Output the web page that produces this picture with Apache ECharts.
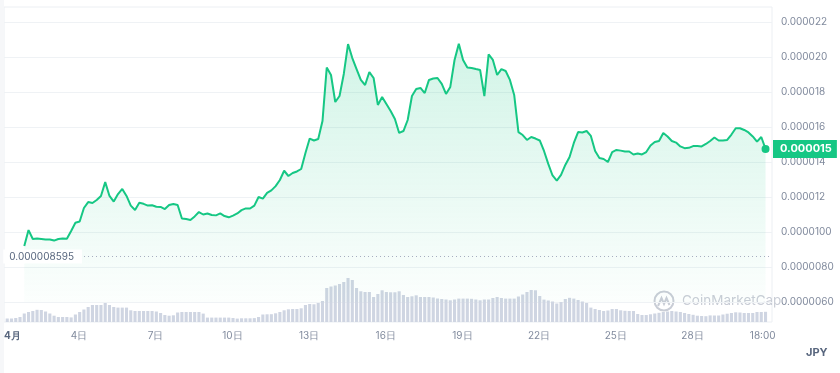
<!DOCTYPE html>
<html><head><meta charset="utf-8">
<script src="https://cdn.jsdelivr.net/npm/echarts@6/dist/echarts.min.js"></script>
<style>html,body{margin:0;padding:0;background:#fff}#c{width:840px;height:373px}</style>
</head><body><div id="c"></div>
<script>
// Price in units of 0.000001 JPY, sampled every 4 hours
const PRICE_START_DAY = 1.86;   // day of month (fractional) of first price sample
const VOLUME_START_DAY = 1.193; // day of month (fractional) of first volume bar
const STEP_DAYS = 1 / 6;        // 4 hours
const X_MIN_DAY = 1.0665;
const X_MAX_DAY = 31.113;

const priceMicroJPY = [
  9.2, 10.11, 9.6, 9.63, 9.6, 9.57, 9.57, 9.51, 9.6, 9.63,
  9.61, 10.06, 10.53, 10.6, 11.37, 11.71, 11.66, 11.83, 12.06, 12.85,
  12.06, 11.74, 12.17, 12.46, 12.06, 11.51, 11.26, 11.67, 11.61, 11.51,
  11.53, 11.44, 11.43, 11.31, 11.54, 11.6, 11.54, 10.77, 10.74, 10.69,
  10.89, 11.14, 11.0, 11.06, 10.97, 10.95, 11.06, 10.91, 10.84, 10.94,
  11.06, 11.25, 11.35, 11.34, 11.51, 12.0, 11.91, 12.23, 12.38, 12.62,
  12.97, 13.5, 13.2, 13.37, 13.46, 13.6, 14.51, 15.34, 15.23, 15.31,
  16.34, 19.4, 18.97, 17.43, 17.77, 19.03, 20.74, 19.94, 19.31, 18.69,
  18.4, 19.14, 18.8, 17.26, 17.71, 17.31, 16.91, 16.46, 15.66, 15.77,
  16.4, 17.77, 18.17, 18.23, 17.94, 18.69, 18.77, 18.8, 18.46, 17.89,
  18.29, 19.83, 20.75, 19.83, 19.4, 19.37, 19.31, 19.26, 17.77, 20.15,
  19.83, 18.97, 19.31, 19.2, 18.69, 17.83, 15.71, 15.54, 15.26, 15.43,
  15.34, 15.23, 14.63, 13.89, 13.23, 12.94, 13.26, 13.83, 14.29, 15.09,
  15.71, 15.69, 15.77, 15.49, 14.63, 14.23, 14.17, 14.0, 14.57, 14.69,
  14.65, 14.6, 14.6, 14.43, 14.49, 14.43, 14.57, 14.94, 15.14, 15.2,
  15.66, 15.46, 15.2, 15.11, 14.89, 14.79, 14.81, 14.91, 14.91, 14.89,
  15.03, 15.2, 15.4, 15.23, 15.23, 15.26, 15.57, 15.93, 15.93, 15.83,
  15.69, 15.46, 15.16, 15.43, 14.75
];

// Trading volume (relative units), 4-hour bars
const volumeRel = [
  3.5, 3.5, 4, 5, 8.5, 10, 11, 12.2, 12, 10.5,
  8.5, 6.3, 5, 5, 5, 4.6, 7.5, 10, 12.5, 15,
  17, 17, 17, 19, 17, 15, 14.4, 14.4, 14.4, 11.7,
  11, 11, 11, 11, 11, 10.5, 9, 7, 6.3, 6.7,
  9.5, 10, 10, 10, 10, 10, 8.4, 4.4, 4.4, 4.4,
  4.4, 4.4, 4.4, 4, 3.4, 3.7, 3.7, 3.7, 3.9, 5,
  7.5, 7.7, 7.8, 8.7, 10, 11.7, 12.7, 13, 13, 13.7,
  17, 18, 17.7, 19, 21, 34, 35.5, 36.5, 38, 40,
  44, 42, 34, 30.7, 30, 30, 25, 28, 31.7, 30,
  29.7, 29.7, 30.7, 27, 25, 25.7, 26.7, 25, 25, 25,
  24.5, 23.5, 23, 22.5, 21.7, 22.5, 23.4, 23.4, 23.4, 23.2,
  22.5, 21.7, 22.5, 22.5, 24, 25, 24, 23.4, 23.4, 23.4,
  25.5, 27.5, 30, 32, 31.7, 26, 22.4, 21.5, 20.5, 18.5,
  20, 23, 24.2, 23.4, 22, 20.5, 19, 14.4, 13, 12,
  11, 11.5, 13, 13, 11.7, 11.2, 11, 11, 8, 7,
  7, 7.7, 8.5, 9.2, 10, 10.5, 11, 10.5, 10, 9,
  8, 7.2, 6.3, 6, 5.8, 6.6, 6.5, 6.5, 7.5, 8.3,
  9, 9.7, 9.5, 9, 9, 9, 10, 10, 10.2
];

const xTickDays = [X_MIN_DAY, 4, 7, 10, 13, 16, 19, 22, 25, 28, 30.75];
const xTickLabels = ['4月', '4日', '7日', '10日', '13日', '16日', '19日', '22日', '25日', '28日', '18:00'];
const yMin = 6, yMax = 22, yStep = 2;
const lowestPrice = 8.595;
const currencyName = 'JPY';
const watermarkText = 'CoinMarketCap';

const GREEN = '#16c784';
const LABEL_GRAY = '#808a9d';
const DARK_GRAY = '#58667e';
const FONT = 'Inter, Roboto, sans-serif';

const priceData = priceMicroJPY.map((v, i) => [PRICE_START_DAY + i * STEP_DAYS, v]);
const volumeData = volumeRel.map((v, i) => [VOLUME_START_DAY + i * STEP_DAYS, v]);
const lastPoint = priceData[priceData.length - 1];

function fmtPrice(v) {
  return v >= 11 ? (v / 1e6).toFixed(6) : (v / 1e6).toFixed(7);
}

const chart = echarts.init(document.getElementById('c'), null, { renderer: 'canvas' });
chart.setOption({
  animation: false,
  textStyle: { fontFamily: FONT },
  grid: [
    { left: 4, right: 68, top: 22, bottom: 71 },
    { left: 4, right: 68, top: 262, bottom: 51 },
    { left: 4, right: 68, top: 7, bottom: 51, show: true, borderColor: '#eceff3', borderWidth: 1, backgroundColor: 'transparent' }
  ],
  xAxis: [
    { type: 'value', gridIndex: 0, min: X_MIN_DAY, max: X_MAX_DAY, show: false },
    {
      type: 'value', gridIndex: 1, min: X_MIN_DAY, max: X_MAX_DAY,
      axisLine: { show: false }, axisTick: { show: false }, splitLine: { show: false },
      axisLabel: {
        customValues: xTickDays,
        alignMinLabel: 'left',
        margin: 9,
        color: LABEL_GRAY, fontSize: 10, fontFamily: FONT,
        formatter: function (v) {
          const k = xTickDays.findIndex(d => Math.abs(d - v) < 1e-6);
          const t = k >= 0 ? xTickLabels[k] : '';
          return k === 0 ? '{b|' + t + '}' : t;
        },
        rich: { b: { fontWeight: 'bold', color: DARK_GRAY, fontSize: 10, fontFamily: FONT } }
      }
    },
    { type: 'value', gridIndex: 2, min: 0, max: 1, show: false }
  ],
  yAxis: [
    {
      type: 'value', gridIndex: 0, position: 'right', min: yMin, max: yMax, interval: yStep,
      axisLine: { show: false }, axisTick: { show: false },
      splitLine: { lineStyle: { color: '#eff2f5', width: 1 } },
      axisLabel: { margin: 9, color: LABEL_GRAY, fontSize: 10, fontFamily: FONT, formatter: fmtPrice },
      name: currencyName, nameLocation: 'start', nameGap: 45,
      nameTextStyle: { align: 'left', padding: [0, 0, 0, 34], fontWeight: 'bold', color: DARK_GRAY, fontSize: 11, fontFamily: FONT }
    },
    { type: 'value', gridIndex: 1, min: 0, max: 60, show: false },
    { type: 'value', gridIndex: 2, min: 0, max: 1, show: false }
  ],
  series: [
    {
      type: 'bar', xAxisIndex: 1, yAxisIndex: 1, data: volumeData,
      barWidth: 3.1, itemStyle: { color: '#cfd5e2' }, silent: true
    },
    {
      type: 'line', xAxisIndex: 0, yAxisIndex: 0, data: priceData,
      showSymbol: false, smooth: false,
      lineStyle: { color: GREEN, width: 2 },
      areaStyle: {
        origin: 'start',
        color: new echarts.graphic.LinearGradient(0, 0, 0, 1, [
          { offset: 0, color: 'rgba(22,199,132,0.28)' },
          { offset: 1, color: 'rgba(22,199,132,0.02)' }
        ])
      },
      markLine: {
        silent: true, symbol: ['none', 'none'],
        data: [
          {
            yAxis: lowestPrice,
            lineStyle: { type: [1, 3], color: '#a7aec0', width: 1 },
            label: {
              show: true, position: 'start', distance: [-78, 0],
              formatter: () => (lowestPrice / 1e6).toFixed(9),
              color: DARK_GRAY, fontSize: 10, fontFamily: FONT,
              backgroundColor: '#fff', padding: [2, 8, 2, 6]
            }
          },
          {
            yAxis: lastPoint[1],
            lineStyle: { color: 'rgba(0,0,0,0)', width: 1, type: 'solid' },
            label: {
              show: true, position: 'end', distance: 1,
              formatter: () => (lastPoint[1] / 1e6).toFixed(6),
              color: '#fff', fontWeight: 'bold', fontSize: 11, fontFamily: FONT,
              backgroundColor: GREEN, padding: [4, 5, 3, 7]
            }
          }
        ]
      },
      markPoint: {
        silent: true,
        symbol: 'circle', symbolSize: 8,
        itemStyle: { color: GREEN },
        label: { show: false },
        data: [{ coord: lastPoint }]
      }
    }
  ],
  graphic: [
    { type: 'rect', left: 0, top: 0, shape: { width: 4, height: 373 }, style: { fill: '#f6f7f9' }, silent: true },
    {
      type: 'group', left: 652, top: 289, silent: true, children: [
        { type: 'circle', shape: { cx: 10, cy: 10, r: 9.5 }, style: { fill: 'none', stroke: '#c9cdd6', lineWidth: 2 } },
        { type: 'polyline', shape: { points: [[4, 15], [7.5, 7], [10, 13], [12.5, 7], [15.5, 14]] }, style: { fill: 'none', stroke: '#c9cdd6', lineWidth: 2 } },
        { type: 'text', x: 28, y: 3, style: { text: watermarkText, fill: '#c9cdd6', font: '13.5px Inter, Roboto, sans-serif' } }
      ]
    }
  ]
});
</script></body></html>
